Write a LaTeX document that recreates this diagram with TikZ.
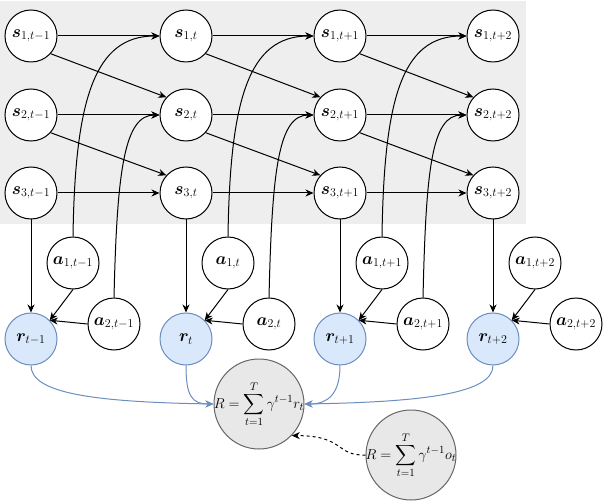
\documentclass[tikz,border=0pt]{standalone}
\usepackage{amsmath,bm}
\usetikzlibrary{arrows.meta}
\definecolor{bgray}{HTML}{EEEEEE}
\definecolor{rfill}{HTML}{DAE8FC}
\definecolor{rline}{HTML}{6C8EBF}
\definecolor{Rfill}{HTML}{E8E8E8}
\definecolor{Rline}{HTML}{666666}
\tikzset{
  var/.style={circle,draw=black,fill=white,line width=1pt,minimum size=52pt,inner sep=0pt,font=\fontsize{16.5}{19}\selectfont},
  rew/.style={var,draw=rline,fill=rfill},
  sumnode/.style={circle,draw=Rline,fill=Rfill,line width=1pt,minimum size=90pt,inner sep=0pt,
    label={[font=\fontsize{15.5}{19}\selectfont,inner sep=0pt]center:#1}},
  arr/.style={line width=1pt,-{Stealth[length=8pt,width=7pt,inset=2.5pt]}},
  barr/.style={arr,draw=rline},
}
\begin{document}
\begin{tikzpicture}[x=1pt,y=1pt]
\useasboundingbox (0,0) rectangle (604,-502);
\fill[bgray] (0,-1) rectangle (526,-224);
% state nodes
\foreach \c/\x/\lab in {1/31/{t-1},2/186/t,3/340/{t+1},4/493/{t+2}}{
  \foreach \rr/\y in {1/-36,2/-115,3/-193}{
    \node[var] (s\rr\c) at (\x,\y) {$\bm{s}_{\rr,\lab}$};
  }
  \node[var] (a1\c) at (\x+42,-263) {$\bm{a}_{1,\lab}$};
  \node[var] (a2\c) at (\x+83,-324) {$\bm{a}_{2,\lab}$};
  \node[rew] (r\c) at (\x,-339) {$\bm{r}_{\lab}$};
}
\node[sumnode={$\displaystyle R=\sum_{t=1}^{T}\gamma^{t-1}r_t$}] (R) at (259,-404) {};
\node[sumnode={$\displaystyle R=\sum_{t=1}^{T}\gamma^{t-1}o_t$}] (R2) at (411,-455) {};
% transitions
\foreach \c/\n in {1/2,2/3,3/4}{
  \draw[arr] (s1\c.east) -- (s1\n.west);
  \draw[arr] (s2\c.east) -- (s2\n.west);
  \draw[arr] (s3\c.east) -- (s3\n.west);
  \draw[arr] (s1\c.-42) -- (s2\n.138);
  \draw[arr] (s2\c.-42) -- (s3\n.138);
  \draw[arr] (a1\c.north) .. controls +(2,137) and +(-65,0) .. (s1\n.west);
  \draw[arr] (a2\c.north) .. controls +(3,128) and +(-35,0) .. (s2\n.west);
}
% rewards
\foreach \c in {1,2,3,4}{
  \draw[arr] (s3\c.south) -- (r\c.north);
  \draw[arr] (a1\c.south) -- (r\c.45);
  \draw[arr] (a2\c.west) -- (r\c.45);
}
\draw[barr] (r1.south) .. controls +(0,-27) and +(-124,2) .. (R.west);
\draw[barr] (r2.south) .. controls +(0,-30) and +(-22,0) .. (R.west);
\draw[barr] (r3.south) .. controls +(0,-30) and +(22,0) .. (R.east);
\draw[barr] (r4.south) .. controls +(0,-27) and +(124,2) .. (R.east);
\draw[arr,dashed] (R2.west) .. controls +(-30,-1) and +(53,0) .. (R.-44);
\end{tikzpicture}
\end{document}
